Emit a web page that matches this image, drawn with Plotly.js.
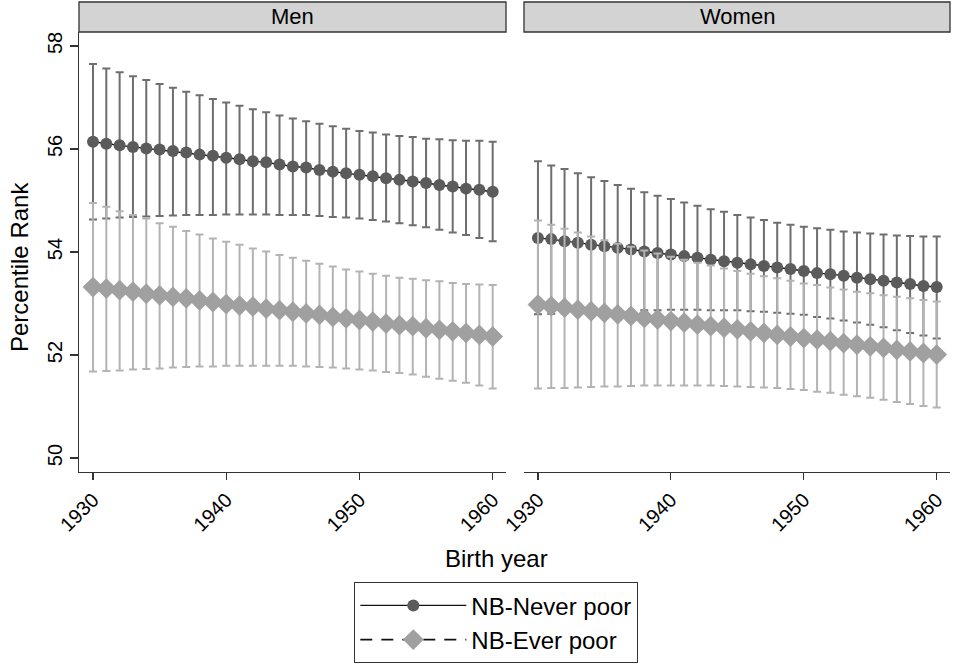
<!DOCTYPE html>
<html>
<head>
<meta charset="utf-8">
<script src="https://cdn.plot.ly/plotly-3.0.1.min.js"></script>
<style>html,body{margin:0;padding:0;background:#fff;} #chart{width:953px;height:664px;}</style>
</head>
<body>
<div id="chart"></div>
<script>
// ---- Data ----
const years = [1930,1931,1932,1933,1934,1935,1936,1937,1938,1939,1940,1941,1942,1943,1944,1945,1946,1947,1948,1949,1950,1951,1952,1953,1954,1955,1956,1957,1958,1959,1960];
const panels = ["Men", "Women"];
const seriesNames = ["NB-Never poor", "NB-Ever poor"];

const menNeverMean  = [56.14,56.10,56.07,56.04,56.01,55.99,55.96,55.93,55.89,55.87,55.83,55.80,55.76,55.74,55.70,55.66,55.64,55.59,55.56,55.53,55.50,55.47,55.43,55.40,55.37,55.34,55.30,55.27,55.23,55.21,55.17];
const menNeverUpper = [57.65,57.56,57.49,57.41,57.34,57.26,57.19,57.11,57.04,56.97,56.90,56.84,56.77,56.71,56.65,56.59,56.54,56.49,56.44,56.39,56.35,56.32,56.28,56.25,56.23,56.20,56.19,56.17,56.16,56.16,56.14];
const menNeverLower = [54.63,54.65,54.67,54.68,54.69,54.70,54.71,54.72,54.72,54.72,54.73,54.73,54.73,54.73,54.72,54.72,54.72,54.70,54.68,54.67,54.65,54.62,54.59,54.56,54.52,54.48,54.43,54.38,54.33,54.27,54.21];

const menEverMean  = [53.32,53.29,53.26,53.23,53.19,53.16,53.13,53.10,53.06,53.03,52.99,52.96,52.94,52.90,52.87,52.84,52.81,52.78,52.74,52.71,52.68,52.65,52.61,52.58,52.56,52.52,52.49,52.46,52.43,52.39,52.36];
const menEverUpper = [54.95,54.88,54.79,54.72,54.65,54.56,54.49,54.41,54.34,54.26,54.20,54.14,54.07,54.01,53.94,53.89,53.83,53.77,53.72,53.66,53.62,53.58,53.54,53.50,53.48,53.45,53.43,53.40,53.38,53.37,53.36];
const menEverLower = [51.68,51.69,51.70,51.72,51.73,51.74,51.76,51.77,51.78,51.78,51.79,51.79,51.79,51.79,51.79,51.79,51.78,51.77,51.76,51.74,51.72,51.70,51.67,51.65,51.62,51.58,51.54,51.50,51.46,51.41,51.35];

const womenNeverMean  = [54.27,54.25,54.21,54.18,54.14,54.11,54.08,54.05,54.01,53.98,53.95,53.92,53.89,53.85,53.82,53.79,53.76,53.73,53.70,53.67,53.63,53.59,53.57,53.54,53.50,53.47,53.44,53.41,53.38,53.34,53.32];
const womenNeverUpper = [55.76,55.68,55.61,55.53,55.45,55.38,55.30,55.23,55.16,55.09,55.03,54.96,54.90,54.83,54.78,54.72,54.67,54.62,54.57,54.53,54.49,54.46,54.43,54.40,54.38,54.36,54.34,54.32,54.31,54.30,54.30];
const womenNeverLower = [52.79,52.80,52.81,52.83,52.84,52.85,52.86,52.87,52.87,52.87,52.88,52.88,52.88,52.87,52.87,52.87,52.85,52.84,52.82,52.80,52.78,52.74,52.71,52.67,52.63,52.59,52.54,52.48,52.43,52.38,52.32];

const womenEverMean  = [52.98,52.95,52.92,52.88,52.85,52.82,52.79,52.76,52.72,52.69,52.66,52.63,52.59,52.56,52.53,52.50,52.46,52.43,52.39,52.36,52.33,52.30,52.27,52.23,52.20,52.17,52.14,52.10,52.07,52.04,52.01];
const womenEverUpper = [54.61,54.53,54.45,54.38,54.30,54.23,54.16,54.10,54.03,53.97,53.91,53.85,53.79,53.74,53.68,53.63,53.58,53.53,53.49,53.44,53.39,53.36,53.31,53.27,53.23,53.20,53.16,53.13,53.10,53.07,53.04];
const womenEverLower = [51.35,51.36,51.36,51.37,51.38,51.39,51.39,51.40,51.41,51.41,51.41,51.41,51.41,51.41,51.40,51.39,51.38,51.37,51.36,51.34,51.32,51.29,51.27,51.23,51.20,51.17,51.13,51.09,51.05,51.01,50.98];

const yTicks = [50, 52, 54, 56, 58];
const xTicks = [1930, 1940, 1950, 1960];

// ---- Styles ----
const FONT = "Liberation Sans, Arial, sans-serif";
const W = 953, H = 664;
const styles = [
  {marker: {symbol: "circle", size: 12, color: "#5b5b5b"}, line: {color: "#111", width: 1.4, dash: "solid"}, err: "#6e6e6e"},
  {marker: {symbol: "diamond", size: 16, color: "#a0a0a0"}, line: {color: "#111", width: 1.6, dash: "12px,9px"}, err: "#b3b3b3"}
];

function mk(mean, upper, lower, s, name, xa, ya, showlegend) {
  return {
    type: "scatter", mode: "lines+markers", x: years, y: mean, name: name,
    xaxis: xa, yaxis: ya, showlegend: showlegend, legendgroup: name,
    marker: s.marker, line: s.line,
    error_y: {type: "data", symmetric: false,
      array: upper.map((u, i) => u - mean[i]),
      arrayminus: lower.map((l, i) => mean[i] - l),
      color: s.err, thickness: 2, width: 4},
    hoverinfo: "x+y"
  };
}

const data = [
  mk(menNeverMean, menNeverUpper, menNeverLower, styles[0], seriesNames[0], "x", "y", true),
  mk(menEverMean, menEverUpper, menEverLower, styles[1], seriesNames[1], "x", "y", true),
  mk(womenNeverMean, womenNeverUpper, womenNeverLower, styles[0], seriesNames[0], "x2", "y2", false),
  mk(womenEverMean, womenEverUpper, womenEverLower, styles[1], seriesNames[1], "x2", "y2", false)
];

const px = v => v / W, py = v => 1 - v / H;
const yDomain = [py(472), py(32)];
const xRange = [1928.95, 1961.0];
const yRange = [49.73, 58.27];

const xCommon = {
  range: xRange, tickvals: xTicks, ticktext: xTicks.map(String), tickangle: -45,
  ticks: "outside", ticklen: 7, tickwidth: 1.2, tickcolor: "#333",
  showline: true, linecolor: "#333", linewidth: 1.3, showgrid: false, zeroline: false,
  tickfont: {family: FONT, size: 20, color: "#000"}, automargin: false
};

const layout = {
  width: W, height: H,
  margin: {l: 0, r: 0, t: 0, b: 0},
  paper_bgcolor: "#fff", plot_bgcolor: "#fff",
  font: {family: FONT, color: "#000"},
  xaxis: Object.assign({}, xCommon, {domain: [px(79), px(506)], anchor: "y"}),
  xaxis2: Object.assign({}, xCommon, {domain: [px(524), px(950)], anchor: "y2"}),
  yaxis: {
    domain: yDomain, range: yRange, tickvals: yTicks, ticktext: yTicks.map(String), tickangle: -90,
    ticks: "outside", ticklen: 8, tickwidth: 1.2, tickcolor: "#333",
    showline: true, linecolor: "#333", linewidth: 1.3, showgrid: false, zeroline: false,
    tickfont: {family: FONT, size: 20, color: "#000"}, automargin: false,
    anchor: "x"
  },
  yaxis2: {
    domain: yDomain, range: yRange, matches: "y", showticklabels: false, ticks: "",
    showline: false, showgrid: false, zeroline: false, anchor: "x2"
  },
  shapes: [
    {type: "rect", xref: "paper", yref: "paper", x0: px(79), x1: px(506), y0: py(32), y1: py(2),
     fillcolor: "#d3d3d3", line: {color: "#333", width: 1.3}},
    {type: "rect", xref: "paper", yref: "paper", x0: px(524), x1: px(950), y0: py(32), y1: py(2),
     fillcolor: "#d3d3d3", line: {color: "#333", width: 1.3}}
  ],
  annotations: [
    {text: panels[0], xref: "paper", yref: "paper", x: px(292.5), y: py(17), showarrow: false,
     xanchor: "center", yanchor: "middle", font: {family: FONT, size: 22, color: "#000"}},
    {text: panels[1], xref: "paper", yref: "paper", x: px(737), y: py(17), showarrow: false,
     xanchor: "center", yanchor: "middle", font: {family: FONT, size: 22, color: "#000"}},
    {text: "Percentile Rank", xref: "paper", yref: "paper", x: px(19), y: py(267), showarrow: false,
     textangle: -90, xanchor: "center", yanchor: "middle", font: {family: FONT, size: 24, color: "#000"}},
    {text: "Birth year", xref: "paper", yref: "paper", x: px(496), y: py(558), showarrow: false,
     xanchor: "center", yanchor: "middle", font: {family: FONT, size: 24, color: "#000"}}
  ],
  legend: {
    x: px(496), y: py(582), xanchor: "center", yanchor: "top",
    bordercolor: "#333", borderwidth: 1.3, bgcolor: "#fff",
    font: {family: FONT, size: 24, color: "#000"}, itemwidth: 106,
    tracegroupgap: 0
  },
  showlegend: true
};

Plotly.newPlot("chart", data, layout, {displayModeBar: false, staticPlot: true});
</script>
</body>
</html>
